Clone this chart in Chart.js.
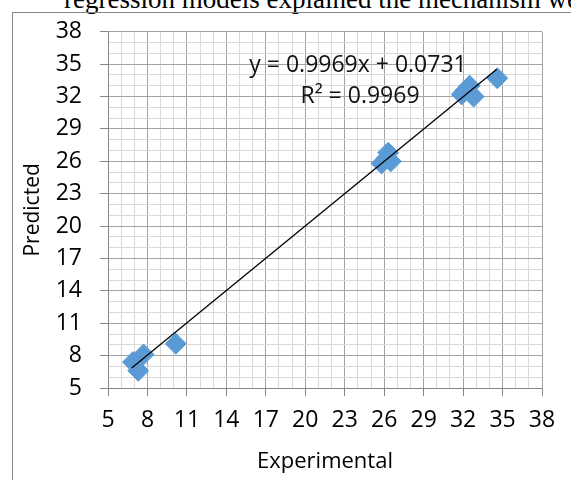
<!DOCTYPE html>
<html>
<head>
<meta charset="utf-8">
<script src="https://cdn.jsdelivr.net/npm/chart.js@4"></script>
<style>
  html, body { margin: 0; padding: 0; background: #fff; }
  body { width: 571px; height: 480px; position: relative; overflow: hidden; }
  #caption { position: absolute; left: 64px; top: -14px; font: 27px/27px "Liberation Serif", serif; white-space: nowrap; color: #000; }
  #frame { position: absolute; left: 12px; top: 12px; width: 620px; height: 520px; border-left: 1px solid #878787; border-top: 1px solid #878787; }
  #wrap { position: absolute; left: 0; top: 0; width: 571px; height: 480px; }
</style>
</head>
<body>
<div id="caption">regression models explained the mechanism we</div>
<div id="frame"></div>
<div id="wrap"><canvas id="chart"></canvas></div>
<script>
// values
const experimental = [6.9, 7.3, 7.7, 10.15, 25.8, 26.2, 26.3, 26.5, 31.9, 32.2, 32.5, 32.8, 34.6];
const predicted    = [7.4, 6.6, 8.1, 9.1, 25.8, 26.3, 26.8, 26.0, 32.2, 32.6, 33.0, 32.0, 33.7];
const trendX = [6.8, 34.56];
const trendY = [6.85, 34.53];
const axisMin = 5;
const axisMax = 38;
const majorStep = 3;
const equationText = 'y = 0.9969x + 0.0731';
const r2Text = 'R² = 0.9969';

const FONT = '"Open Sans", sans-serif';
const isMajor = v => (v - axisMin) % majorStep === 0;

const equationLabel = {
  id: 'equationLabel',
  afterDatasetsDraw(chart) {
    const ctx = chart.ctx;
    ctx.save();
    ctx.fillStyle = '#111';
    ctx.font = '23px ' + FONT;
    ctx.textAlign = 'center';
    ctx.textBaseline = 'middle';
    ctx.fillText(equationText, 358, 65);
    ctx.fillText(r2Text, 360, 96);
    ctx.restore();
  }
};

function axisOpts(title, titleSize) {
  return {
    type: 'linear',
    min: axisMin,
    max: axisMax,
    ticks: {
      stepSize: 1,
      autoSkip: false,
      maxRotation: 0,
      minRotation: 0,
      color: '#000',
      font: { family: FONT, size: 23 },
      callback: v => isMajor(v) ? String(v) : ''
    },
    grid: {
      color: c => isMajor(c.tick.value) ? '#a3a3a3' : '#d9d9d9',
      tickColor: c => isMajor(c.tick.value) ? '#868686' : 'rgba(0,0,0,0)',
      tickLength: 8,
      lineWidth: 1
    },
    border: { color: '#868686', width: 1 },
    title: {
      display: true,
      text: title,
      color: '#000',
      font: { family: FONT, size: titleSize }
    }
  };
}

const xOpts = axisOpts('Experimental', 22);
xOpts.ticks.padding = 11;
xOpts.title.padding = { top: 0, bottom: 5 };
xOpts.afterFit = s => { s.height = 92; };

const yOpts = axisOpts('Predicted', 21);
yOpts.ticks.padding = 18;
yOpts.title.padding = { top: 20, bottom: 0 };
yOpts.afterFit = s => { s.width = 108; };

new Chart(document.getElementById('chart'), {
  type: 'scatter',
  data: {
    datasets: [
      {
        type: 'line',
        label: 'Trend',
        data: trendX.map((x, i) => ({ x: x, y: trendY[i] })),
        borderColor: '#000',
        borderWidth: 1.3,
        pointRadius: 0,
        fill: false,
        order: 0
      },
      {
        label: 'Predicted',
        data: experimental.map((x, i) => ({ x: x, y: predicted[i] })),
        pointStyle: 'rectRot',
        pointRadius: 10.5,
        pointBackgroundColor: '#5b9bd5',
        pointBorderColor: '#5b9bd5',
        pointBorderWidth: 1,
        order: 1
      }
    ]
  },
  options: {
    responsive: true,
    maintainAspectRatio: false,
    animation: false,
    layout: { padding: { left: 0, top: 27, right: 29, bottom: 0 } },
    plugins: {
      legend: { display: false },
      tooltip: { enabled: false }
    },
    scales: { x: xOpts, y: yOpts }
  },
  plugins: [equationLabel]
});
</script>
</body>
</html>
